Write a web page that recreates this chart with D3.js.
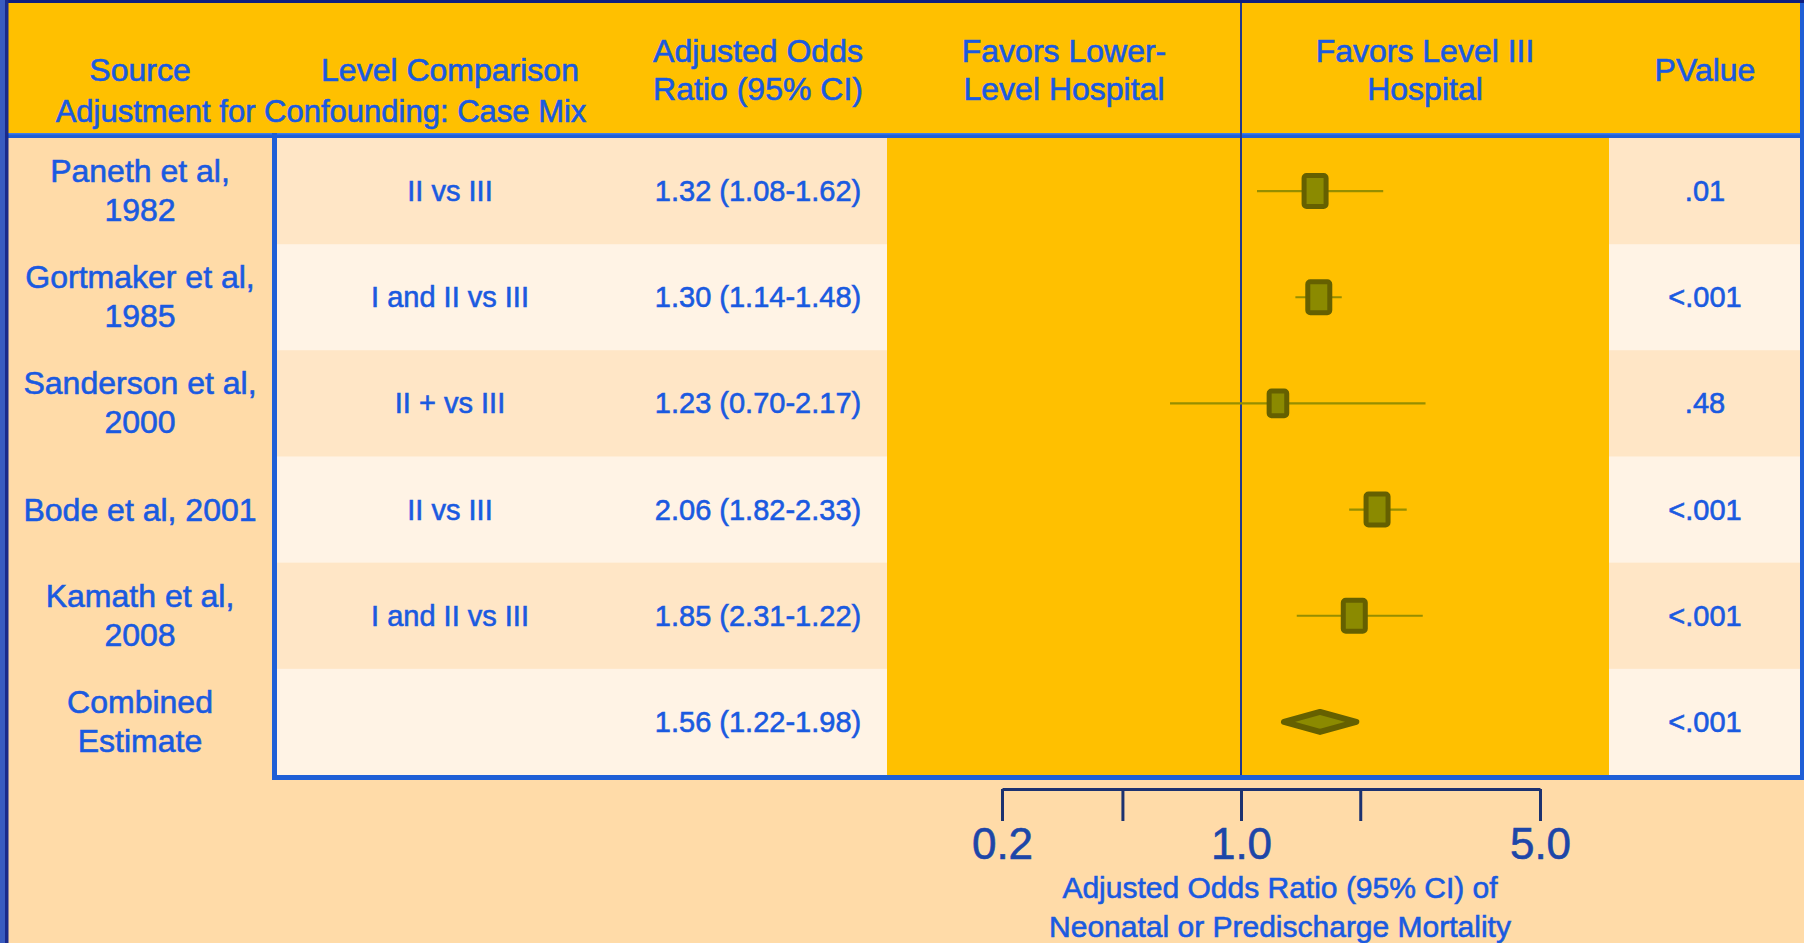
<!DOCTYPE html>
<html>
<head>
<meta charset="utf-8">
<script src="https://cdn.jsdelivr.net/npm/d3@7"></script>
<style>
body { margin: 0; background: #FFDBA8; overflow: hidden; }
svg text { font-family: "Liberation Sans", Arial, sans-serif; }
</style>
</head>
<body>
<svg id="chart" width="1804" height="943"></svg>
<script>
// table content, top to bottom
var sources = [['Paneth et al,', '1982'], ['Gortmaker et al,', '1985'], ['Sanderson et al,', '2000'],
	['Bode et al, 2001'], ['Kamath et al,', '2008'], ['Combined', 'Estimate']];
var levels = ['II vs III', 'I and II vs III', 'II + vs III', 'II vs III', 'I and II vs III', ''];
var orText = ['1.32 (1.08-1.62)', '1.30 (1.14-1.48)', '1.23 (0.70-2.17)', '2.06 (1.82-2.33)',
	'1.85 (2.31-1.22)', '1.56 (1.22-1.98)'];
var pValues = ['.01', '<.001', '.48', '<.001', '<.001', '<.001'];

// odds ratios as they are drawn in the figure
var orPoint = [1.49, 1.52, 1.22, 2.08, 1.84, 1.53];
var orLow   = [1.09, 1.34, 0.62, 1.79, 1.35, 1.26];
var orHigh  = [2.15, 1.72, 2.70, 2.44, 2.66, 1.86];
var weights = [1, 1, 0.8, 1, 1, 1];   // relative marker size
var isPooled = [false, false, false, false, false, true];

// axis
var axisTicks  = [0.2, 0.45, 1.0, 1.9, 5.0];
var axisLabels = ['0.2', '', '1.0', '', '5.0'];

var fmt = {
	clr_bkg: '#FFDBA8',
	clr_head: '#FFC000',
	clr_row: ['#FFE6C6', '#FFF3E5'],
	clr_line: '#1F5FD6',
	clr_frame: '#0E1E80',
	clr_text: '#1A5AE0',
	clr_axis: '#1C3270',
	clr_axtext: '#1D46A8',
	clr_null: '#23398A',
	clr_box: '#8B8A00',
	clr_boxedge: '#656000',
	clr_whisker: '#968E00'
};

var W = 1804, H = 943;
var tableTop = 138, tableBottom = 775;
var colSource = 140, colLevel = 450, colOR = 758, colLower = 1064, colUpper = 1425, colP = 1705;
var plotLeft = 887, plotRight = 1609;

var svg = d3.select('#chart');

var y = d3.scaleBand()
	.domain(d3.range(sources.length))
	.range([tableTop, tableBottom]);
// hand-drawn axis: 0.2 .. 1 .. 5 on a piecewise log scale
var x = d3.scaleLog()
	.domain([0.2, 1, 5])
	.range([1002, 1241, 1540]);

// backgrounds
svg.append('rect').attr('width', W).attr('height', H).attr('fill', fmt.clr_bkg);
svg.append('rect').attr('width', W).attr('height', 135).attr('fill', fmt.clr_head);

svg.selectAll('rect.row')
	.data(d3.range(sources.length))
	.enter().append('rect')
	.attr('class', 'row')
	.attr('x', 277)
	.attr('y', function(i) { return y(i); })
	.attr('width', W - 277)
	.attr('height', y.bandwidth() + 0.5)
	.attr('fill', function(i) { return fmt.clr_row[i % 2]; });

svg.append('rect')
	.attr('x', plotLeft).attr('y', tableTop)
	.attr('width', plotRight - plotLeft).attr('height', tableBottom - tableTop)
	.attr('fill', fmt.clr_head);

// frame and table lines
svg.append('rect').attr('x', 0).attr('y', 133).attr('width', W).attr('height', 5).attr('fill', fmt.clr_line);
svg.append('rect').attr('x', 0).attr('y', 133).attr('width', W).attr('height', 1.5).attr('fill', '#3F7BE8');
svg.append('rect').attr('x', 272).attr('y', 133).attr('width', 5).attr('height', tableBottom - 133 + 5).attr('fill', fmt.clr_line);
svg.append('rect').attr('x', 272).attr('y', tableBottom).attr('width', W - 272).attr('height', 5).attr('fill', fmt.clr_line);
svg.append('rect').attr('x', W - 4).attr('y', 0).attr('width', 4).attr('height', tableBottom + 5).attr('fill', fmt.clr_line);
svg.append('rect').attr('x', 0).attr('y', 0).attr('width', W).attr('height', 3).attr('fill', fmt.clr_frame);
svg.append('rect').attr('x', 0).attr('y', 0).attr('width', 5).attr('height', H).attr('fill', '#3A5CC0');
svg.append('rect').attr('x', 5).attr('y', 0).attr('width', 3.5).attr('height', H).attr('fill', '#1B2A8A');

// line of no effect
svg.append('line')
	.attr('x1', x(1)).attr('x2', x(1))
	.attr('y1', 3).attr('y2', tableBottom)
	.attr('stroke', fmt.clr_null)
	.attr('stroke-width', 2);

// whiskers
var studies = d3.range(sources.length).filter(function(i) { return !isPooled[i]; });
var pooled = d3.range(sources.length).filter(function(i) { return isPooled[i]; });
var yc = function(i) { return y(i) + y.bandwidth() / 2; };

svg.selectAll('line.ci')
	.data(studies)
	.enter().append('line')
	.attr('class', 'ci')
	.attr('x1', function(i) { return x(orLow[i]); })
	.attr('x2', function(i) { return x(orHigh[i]); })
	.attr('y1', yc).attr('y2', yc)
	.attr('stroke', fmt.clr_whisker)
	.attr('stroke-width', 2.2);

// boxes
svg.selectAll('rect.box')
	.data(studies)
	.enter().append('rect')
	.attr('class', 'box')
	.attr('x', function(i) { return x(orPoint[i]) - 11 * weights[i]; })
	.attr('y', function(i) { return yc(i) - 15.5 * weights[i]; })
	.attr('width', function(i) { return 22 * weights[i]; })
	.attr('height', function(i) { return 31 * weights[i]; })
	.attr('rx', 2.5)
	.attr('fill', fmt.clr_box)
	.attr('stroke', fmt.clr_boxedge)
	.attr('stroke-width', 5);

// pooled estimate
svg.selectAll('path.diamond')
	.data(pooled)
	.enter().append('path')
	.attr('class', 'diamond')
	.attr('d', function(i) {
		var c = yc(i);
		return 'M' + x(orLow[i]) + ',' + c + 'L' + x(orPoint[i]) + ',' + (c - 10) +
			'L' + x(orHigh[i]) + ',' + c + 'L' + x(orPoint[i]) + ',' + (c + 10) + 'Z';
	})
	.attr('fill', fmt.clr_box)
	.attr('stroke', fmt.clr_boxedge)
	.attr('stroke-width', 6)
	.attr('stroke-linejoin', 'round');

// axis
var axis = svg.append('g')
	.attr('transform', 'translate(0,789)')
	.call(d3.axisBottom(x)
		.tickValues(axisTicks)
		.tickFormat(function(d, i) { return axisLabels[i]; })
		.tickSize(32)
		.tickSizeOuter(0));
axis.select('.domain').attr('stroke', fmt.clr_axis).attr('stroke-width', 3);
axis.selectAll('.tick line').attr('stroke', fmt.clr_axis).attr('stroke-width', 3);
axis.selectAll('.tick text')
	.attr('y', 70).attr('dy', 0)
	.attr('fill', fmt.clr_axtext)
	.attr('stroke', fmt.clr_axtext)
	.attr('stroke-width', 0.6)
	.style('font-size', '44px')
	.style('font-family', '"Liberation Sans", Arial, sans-serif');

function label(xp, yp, txt, size, color) {
	return svg.append('text')
		.attr('x', xp).attr('y', yp)
		.attr('text-anchor', 'middle')
		.style('font-size', size + 'px')
		.attr('fill', color || fmt.clr_text)
		.attr('stroke', color || fmt.clr_text)
		.attr('stroke-width', 0.6)
		.text(txt);
}

// header
label(colSource, 81, 'Source', 32);
label(colLevel, 81, 'Level Comparison', 32);
label(colOR, 62, 'Adjusted Odds', 32);
label(colOR, 100, 'Ratio (95% CI)', 32);
label(colLower, 62, 'Favors Lower-', 32);
label(colLower, 100, 'Level Hospital', 32);
label(colUpper, 62, 'Favors Level III', 32);
label(colUpper, 100, 'Hospital', 32);
label(colP, 81, 'PValue', 32);
label(321, 122, 'Adjustment for Confounding: Case Mix', 31);

// rows
d3.range(sources.length).forEach(function(i) {
	var c = yc(i);
	if (sources[i].length === 2) {
		label(colSource, c - 9, sources[i][0], 32);
		label(colSource, c + 30, sources[i][1], 32);
	}
	else {
		label(colSource, c + 11, sources[i][0], 32);
	}
	label(colLevel, c + 10, levels[i], 29);
	label(colOR, c + 10, orText[i], 29);
	label(colP, c + 10, pValues[i], 29);
});

// axis title
label(1280, 898, 'Adjusted Odds Ratio (95% CI) of', 30);
label(1280, 937, 'Neonatal or Predischarge Mortality', 30);
</script>
</body>
</html>
